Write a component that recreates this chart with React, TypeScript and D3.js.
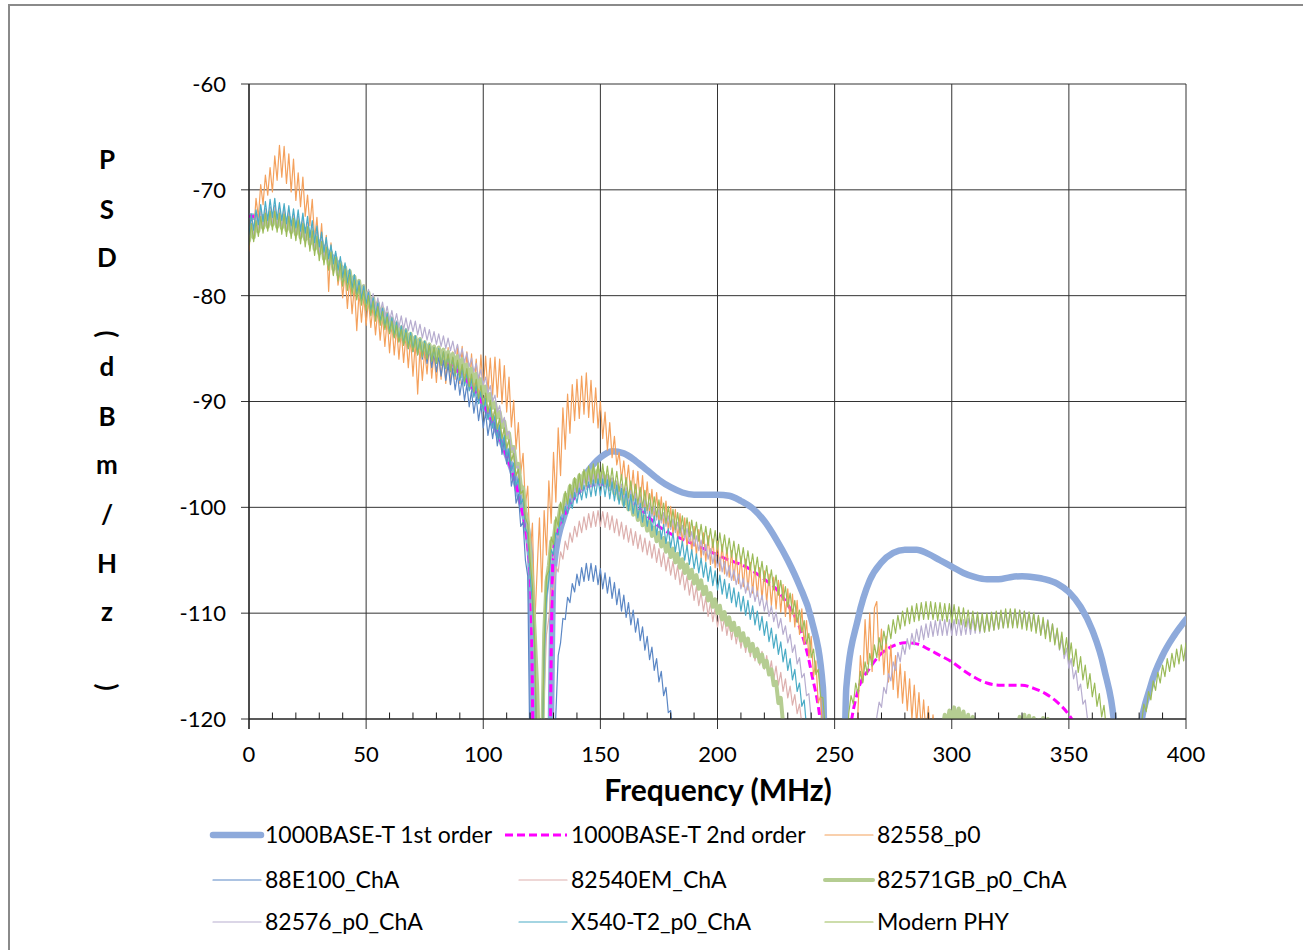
import React from 'react';
import * as d3 from 'd3';

// ---------- axes / ticks ----------
const X_TICKS = [0, 50, 100, 150, 200, 250, 300, 350, 400];
const X_MINOR = [10, 20, 30, 40, 60, 70, 80, 90, 110, 120, 130, 140, 160, 170, 180, 190, 210, 220, 230, 240, 260, 270, 280, 290, 310, 320, 330, 340, 360, 370, 380, 390];
const Y_TICKS = [-60, -70, -80, -90, -100, -110, -120];
const X_TITLE = 'Frequency (MHz)';
const Y_TITLE = ['P', 'S', 'D', '(', 'd', 'B', 'm', '/', 'H', 'z', ')'];

// ---------- theoretical curves (5 MHz grid) ----------
const THEORY_STEP = 5;
const FIRST_ORDER = [
  -72.5, -72.6, -72.7, -73.0, -73.4, -74.0, -75.1, -76.3, -77.6, -78.8,
  -80.1, -81.4, -82.6, -83.5, -84.2, -84.9, -85.6, -86.3, -87.2, -88.5,
  -90.2, -92.3, -95.0, -98.5, -104.5, -200, -106.0, -100.5, -98.2, -96.5,
  -95.3, -94.7, -94.9, -95.6, -96.5, -97.4, -98.1, -98.6, -98.8, -98.8,
  -98.8, -98.9, -99.4, -100.1, -101.3, -103.0, -105.0, -107.4, -110.5, -117.0,
  -200, -117.0, -110.5, -106.9, -105.2, -104.3, -104.0, -104.0, -104.4, -105.0,
  -105.6, -106.2, -106.6, -106.8, -106.8, -106.6, -106.5, -106.6, -106.8, -107.2,
  -108.0, -109.4, -111.6, -115.2, -122.0, -200, -122.0, -116.8, -114.0, -112.1,
  -110.6,
];
const SECOND_ORDER = [
  -72.5, -72.6, -72.8, -73.1, -73.5, -74.1, -75.2, -76.4, -77.7, -78.9,
  -80.2, -81.5, -82.7, -83.6, -84.2, -85.0, -85.7, -86.4, -87.3, -88.6,
  -90.3, -92.4, -95.2, -98.8, -106.0, -200, -103.5, -100.6, -98.8, -98.0,
  -97.8, -98.2, -98.9, -99.8, -100.8, -101.8, -102.5, -103.0, -103.5, -104.0,
  -104.5, -105.0, -105.4, -106.0, -106.8, -107.7, -109.2, -111.3, -115.5, -123.0,
  -200, -125.0, -117.3, -115.2, -113.8, -113.1, -112.8, -112.9, -113.4, -114.0,
  -114.6, -115.4, -116.1, -116.6, -116.8, -116.8, -116.8, -117.1, -117.6, -118.4,
  -119.6, -121.5, -124.0, -130.0, -140.0, -200,
];

// ---------- measured traces (1 MHz grid) ----------
const MEAS_STEP = 1;
const P82558_A = [
  -75.8, -72.5, -74.0, -70.8, -72.6, -69.5, -71.4, -68.6, -70.5, -67.9,
  -70.2, -66.8, -69.1, -65.8, -68.8, -65.9, -69.4, -66.6, -70.2, -67.1,
  -71.0, -68.4, -71.6, -68.8, -72.5, -70.5, -73.4, -70.9, -74.6, -72.6,
  -75.9, -73.2, -76.8, -74.3, -79.6, -75.0, -78.0, -76.3, -79.0, -77.5,
  -80.2, -77.8, -81.2, -78.4, -81.7, -79.0, -83.3, -79.6, -82.5, -80.0,
  -82.8, -80.4, -83.0, -80.9, -83.7, -81.3, -84.2, -81.9, -84.8, -82.2,
  -85.4, -82.6, -85.6, -83.0, -86.0, -83.3, -86.3, -83.7, -86.8, -84.0,
  -87.6, -84.4, -89.3, -84.9, -88.0, -85.2, -87.4, -84.6, -87.8, -85.4,
  -88.2, -85.4, -87.9, -85.0, -88.3, -84.9, -88.4, -85.3, -87.9, -84.7,
  -88.3, -84.8, -88.5, -85.3, -88.9, -85.5, -89.1, -86.0, -89.3, -85.6,
  -88.9, -85.7, -89.1, -85.9, -89.4, -85.8, -89.6, -86.0, -90.2, -86.6,
  -91.0, -87.7, -92.4, -89.9, -94.5, -92.0, -96.8, -94.9, -99.8, -98.0,
  -104.5, -101.5, -111.0, -106.0, -101.0, -108.0, -100.3, -104.5, -97.5, -101.5,
  -94.8, -99.5, -92.5, -97.0, -90.6, -94.5, -89.3, -93.0, -88.4, -91.8,
  -87.9, -91.6, -87.6, -91.2, -87.3, -91.5, -88.0, -92.0, -88.7, -92.5,
  -90.0, -93.5, -91.0, -94.6, -92.0, -95.3, -93.3, -96.0, -94.8, -97.4,
  -95.6, -98.0, -96.0, -98.8, -96.5, -99.4, -96.6, -99.7, -97.0, -100.2,
  -97.6, -100.6, -98.3, -101.1, -98.6, -101.4, -99.0, -101.8, -99.4, -102.2,
  -99.9, -102.6, -100.2, -103.0, -100.6, -103.4, -101.0, -103.8, -101.4, -104.2,
  -101.8, -104.5, -102.1, -104.8, -102.4, -105.1, -102.7, -105.4, -103.0, -105.7,
  -103.2, -106.0, -103.5, -106.3, -103.8, -106.6, -104.1, -106.9, -104.4, -107.2,
  -104.6, -107.5, -104.9, -107.8, -105.2, -108.1, -105.5, -108.4, -105.7, -108.7,
  -106.0, -109.0, -106.3, -109.3, -106.6, -109.6, -106.9, -109.9, -107.3, -110.3,
  -107.7, -110.8, -108.2, -111.3, -108.8, -112.0, -109.6, -112.9, -110.7, -114.2,
  -112.2, -116.0, -114.5, -118.5, -117.8, -121.5, -125.0,
];
const P82558_B = [
  -125, -119, -114, -116.5, -110.6, -114.8, -110.0, -115.5, -109.5, -108.9,
  -114.5, -111.5, -115.8, -112.2, -116.5, -113.0, -117.2, -114.0, -118.0, -114.8,
  -118.5, -115.5, -119.2, -116.2, -120.0, -116.8, -120.5, -117.5, -121, -118.2,
  -121.5, -118.8, -122, -119.6, -122, -125,
];
const E88E100_A = [
  -74.5, -72.9, -74.1, -72.5, -73.7, -72.0, -73.4, -71.8, -73.3, -71.6,
  -73.1, -71.5, -73.2, -71.7, -73.3, -71.8, -73.5, -72.0, -73.8, -72.3,
  -74.0, -72.5, -74.3, -72.8, -74.6, -73.1, -75.0, -73.5, -75.5, -74.0,
  -76.0, -74.5, -76.5, -75.0, -77.0, -75.5, -77.5, -76.0, -78.0, -76.6,
  -78.5, -77.1, -79.0, -77.6, -79.5, -78.1, -80.0, -78.6, -80.5, -79.1,
  -81.0, -79.6, -81.5, -80.1, -82.0, -80.6, -82.5, -81.1, -83.0, -81.6,
  -83.5, -82.0, -83.9, -82.4, -84.3, -82.8, -84.6, -83.1, -85.0, -83.5,
  -85.3, -83.8, -85.6, -84.1, -86.0, -84.5, -86.4, -84.9, -86.8, -85.3,
  -87.2, -85.7, -87.6, -86.1, -88.0, -86.5, -88.4, -86.9, -88.9, -87.4,
  -89.4, -87.9, -89.9, -88.4, -90.5, -89.0, -91.1, -89.6, -91.8, -90.3,
  -92.5, -91.0, -93.2, -91.8, -93.5, -92.0, -94.2, -92.8, -95.0, -93.6,
  -95.9, -94.7, -98.0, -96.9, -99.6, -98.8, -101.8, -101.4, -105.0, -106.5,
  -125.0,
];
const E88E100_B = [
  -125, -119.5, -114, -112.8, -110.5, -110.6, -108.5, -109.0, -107.2, -108.0,
  -106.3, -107.4, -105.7, -107.0, -105.3, -106.9, -105.3, -107.0, -105.5, -107.3,
  -105.8, -107.7, -106.2, -108.1, -106.6, -108.6, -107.1, -109.2, -107.7, -109.8,
  -108.3, -110.4, -109.0, -111.1, -109.7, -111.8, -110.5, -112.6, -111.3, -113.5,
  -112.2, -114.4, -113.2, -115.4, -114.3, -116.5, -115.5, -117.8, -117.0, -119.4,
  -119.2, -121.5, -125,
];
const E82540_A = [
  -74.3, -73.0, -74.0, -72.5, -73.5, -72.0, -73.2, -71.8, -73.1, -71.7,
  -72.9, -71.6, -73.1, -71.8, -73.2, -71.9, -73.4, -72.1, -73.7, -72.4,
  -73.9, -72.6, -74.2, -72.9, -74.5, -73.2, -74.8, -73.6, -75.3, -74.1,
  -75.8, -74.6, -76.3, -75.1, -76.8, -75.6, -77.3, -76.1, -77.8, -76.6,
  -78.3, -77.1, -78.8, -77.6, -79.3, -78.1, -79.8, -78.6, -80.3, -79.1,
  -80.8, -79.7, -81.3, -80.2, -81.8, -80.7, -82.3, -81.2, -82.8, -81.7,
  -83.3, -82.1, -83.7, -82.5, -84.1, -82.9, -84.4, -83.2, -84.7, -83.5,
  -85.0, -83.8, -85.3, -84.0, -85.6, -84.3, -85.8, -84.5, -86.0, -84.8,
  -86.3, -85.0, -86.5, -85.2, -86.7, -85.4, -87.0, -85.8, -87.4, -86.1,
  -87.7, -86.5, -88.1, -86.9, -88.6, -87.4, -89.1, -87.9, -89.6, -88.5,
  -90.2, -89.2, -91.0, -89.9, -91.7, -90.7, -92.6, -91.6, -93.5, -92.5,
  -94.4, -93.6, -95.6, -94.9, -97.0, -96.5, -98.8, -98.6, -101.2, -102.0,
  -105.5, -108.5, -114.0, -125.0,
];
const E82540_B = [
  -125, -118, -112, -110.5, -107.6, -107.8, -105.6, -106.1, -104.2, -104.9,
  -103.2, -104.0, -102.4, -103.3, -101.8, -102.8, -101.3, -102.4, -100.9, -102.1,
  -100.6, -101.9, -100.4, -101.8, -100.3, -101.8, -100.4, -101.9, -100.5, -102.1,
  -100.8, -102.4, -101.1, -102.7, -101.4, -103.0, -101.7, -103.3, -102.0, -103.6,
  -102.3, -103.9, -102.6, -104.2, -102.9, -104.5, -103.2, -104.8, -103.5, -105.2,
  -103.9, -105.6, -104.3, -106.0, -104.7, -106.4, -105.1, -106.8, -105.5, -107.3,
  -106.0, -107.8, -106.5, -108.3, -107.0, -108.8, -107.5, -109.3, -108.0, -109.8,
  -108.5, -110.3, -109.0, -110.8, -109.5, -111.3, -110.0, -111.7, -110.4, -112.1,
  -110.8, -112.5, -111.2, -112.9, -111.6, -113.3, -112.0, -113.7, -112.4, -114.1,
  -112.8, -114.5, -113.2, -114.9, -113.6, -115.3, -114.0, -115.8, -114.5, -116.3,
  -115.0, -116.8, -115.6, -117.4, -116.2, -118.0, -116.9, -118.7, -117.7, -119.5,
  -118.6, -120.5, -121, -125,
];
const E82571_A = [
  -74.8, -73.6, -74.5, -73.1, -73.9, -72.6, -73.6, -72.4, -73.5, -72.3,
  -73.3, -72.2, -73.5, -72.4, -73.6, -72.5, -73.8, -72.6, -74.0, -72.9,
  -74.2, -73.0, -74.5, -73.3, -74.7, -73.6, -75.1, -73.9, -75.6, -74.4,
  -76.0, -74.9, -76.5, -75.4, -77.0, -75.9, -77.5, -76.4, -78.0, -76.9,
  -78.5, -77.3, -78.8, -77.7, -79.2, -78.2, -79.7, -78.6, -80.2, -79.1,
  -80.7, -79.7, -81.2, -80.2, -81.7, -80.7, -82.2, -81.2, -82.7, -81.7,
  -83.1, -82.2, -83.5, -82.6, -83.9, -83.0, -84.2, -83.3, -84.5, -83.6,
  -84.8, -83.9, -85.0, -84.1, -85.2, -84.4, -85.4, -84.6, -85.6, -84.8,
  -85.8, -84.9, -85.9, -85.1, -86.1, -85.3, -86.3, -85.5, -86.5, -85.7,
  -86.8, -86.0, -87.2, -86.5, -87.6, -86.9, -88.1, -87.4, -88.6, -87.9,
  -89.2, -88.6, -89.9, -89.3, -90.6, -90.1, -91.5, -91.0, -92.4, -91.9,
  -93.4, -93.0, -94.7, -94.3, -96.1, -95.9, -97.9, -98.2, -100.4, -101.5,
  -104.5, -107.5, -112.0, -117.0, -125.0,
];
const E82571_B = [
  -125, -112, -107, -105.5, -103.2, -103.2, -101.3, -101.3, -99.8, -100.0,
  -98.8, -99.2, -98.0, -98.6, -97.4, -98.1, -97.0, -97.8, -96.7, -97.6,
  -96.5, -97.5, -96.4, -97.5, -96.5, -97.6, -96.7, -97.9, -97.0, -98.3,
  -97.4, -98.7, -97.9, -99.2, -98.4, -99.7, -98.9, -100.2, -99.4, -100.7,
  -99.9, -101.2, -100.4, -101.7, -100.9, -102.2, -101.4, -102.7, -101.9, -103.2,
  -102.4, -103.7, -102.9, -104.2, -103.4, -104.7, -103.9, -105.2, -104.4, -105.7,
  -104.9, -106.2, -105.4, -106.7, -105.9, -107.2, -106.4, -107.7, -106.9, -108.2,
  -107.5, -108.8, -108.1, -109.4, -108.7, -110.0, -109.3, -110.6, -109.9, -111.1,
  -110.4, -111.6, -110.9, -112.1, -111.4, -112.6, -111.9, -113.1, -112.4, -113.6,
  -112.9, -114.1, -113.4, -114.6, -113.9, -115.1, -114.5, -115.8, -115.3, -116.8,
  -116.5, -118.5, -118.0, -120.5, -122, -125,
];
const E82571_C = [
  -121.0, -119.6, -120.5, -119.2, -120.3, -118.9, -120.4, -119.0, -120.6, -119.3,
  -120.8, -119.6, -121.0, -119.8, -121.5, -120.2, -122.0, -121.0, -122.0, -121.0,
  -122.0, -121.0, -122.0, -121.0, -122.0, -121.0, -122.0, -121.0, -122.0, -121.0,
  -122.0, -121.0, -121.0, -119.8, -120.9, -119.6, -121.0, -119.7, -121.2, -119.9,
  -121.5, -120.1, -122.0, -119.9, -121.4, -120.0, -122.0, -121.0, -122.0, -125.0,
];
const E82576_A = [
  -74.6, -73.1, -74.2, -72.7, -73.8, -72.3, -73.5, -72.1, -73.4, -72.0,
  -73.2, -71.9, -73.4, -72.1, -73.5, -72.2, -73.7, -72.4, -74.0, -72.7,
  -74.2, -72.9, -74.5, -73.2, -74.8, -73.5, -75.1, -73.9, -75.5, -74.3,
  -75.9, -74.7, -76.3, -75.2, -76.7, -76.2, -77.7, -76.6, -78.1, -77.0,
  -78.5, -77.4, -78.9, -77.8, -79.3, -78.2, -79.7, -78.6, -80.1, -79.0,
  -80.5, -79.4, -80.9, -79.8, -81.3, -80.2, -81.6, -80.6, -82.0, -81.0,
  -82.4, -81.4, -82.7, -81.7, -83.0, -81.9, -83.2, -82.1, -83.3, -82.3,
  -83.4, -82.4, -83.7, -82.7, -84.0, -83.0, -84.2, -83.2, -84.4, -83.4,
  -84.6, -83.6, -84.8, -83.8, -85.0, -84.0, -85.2, -84.3, -85.5, -84.6,
  -85.9, -85.0, -86.3, -85.4, -86.7, -85.9, -87.2, -86.4, -87.8, -87.0,
  -88.4, -87.7, -89.2, -88.5, -90.0, -89.4, -91.0, -90.4, -92.0, -91.5,
  -93.2, -92.8, -94.6, -94.3, -96.3, -96.1, -98.3, -98.5, -101.0, -102.0,
  -105.5, -108.5, -114.0, -125.0,
];
const E82576_B = [
  -125, -115, -109, -107.2, -104.6, -104.8, -102.6, -102.9, -101.0, -101.5,
  -99.8, -100.4, -98.9, -99.6, -98.2, -99.0, -97.7, -98.6, -97.3, -98.3,
  -97.0, -98.1, -96.9, -98.0, -96.8, -98.0, -96.9, -98.1, -97.0, -98.3,
  -97.2, -98.5, -97.5, -98.8, -97.8, -99.1, -98.1, -99.4, -98.4, -99.7,
  -98.7, -100.0, -99.0, -100.3, -99.3, -100.6, -99.6, -100.9, -99.9, -101.2,
  -100.2, -101.5, -100.5, -101.8, -100.8, -102.1, -101.1, -102.4, -101.4, -102.7,
  -101.7, -103.0, -102.0, -103.3, -102.3, -103.7, -102.7, -104.1, -103.1, -104.5,
  -103.5, -104.9, -103.9, -105.3, -104.3, -105.7, -104.7, -106.1, -105.1, -106.5,
  -105.5, -106.9, -105.9, -107.3, -106.3, -107.7, -106.7, -108.1, -107.1, -108.5,
  -107.5, -108.9, -107.9, -109.3, -108.3, -109.8, -108.8, -110.3, -109.3, -110.8,
  -109.9, -111.4, -110.5, -112.0, -111.2, -112.8, -112.0, -113.7, -113.0, -114.8,
  -114.2, -116.1, -115.7, -117.8, -117.6, -120.0, -121, -125,
];
const E82576_C = [
  -125, -119.8, -118.4, -118.9, -117.0, -117.6, -115.7, -116.4, -114.6, -115.4,
  -113.7, -114.6, -113.0, -113.9, -112.4, -113.4, -111.9, -113.0, -111.5, -112.7,
  -111.2, -112.5, -111.0, -112.3, -110.8, -112.2, -110.7, -112.1, -110.6, -112.1,
  -110.6, -112.1, -110.6, -112.1, -110.6, -112.1, -110.6, -112.1, -110.6, -112.0,
  -110.5, -112.0, -110.5, -111.9, -110.4, -111.9, -110.4, -111.8, -110.3, -111.7,
  -110.2, -111.6, -110.1, -111.5, -110.0, -111.4, -109.9, -111.3, -109.8, -111.2,
  -109.7, -111.2, -109.7, -111.2, -109.8, -111.3, -109.9, -111.4, -110.0, -111.6,
  -110.3, -112.0, -110.8, -112.0, -110.6, -112.3, -111.0, -112.8, -111.6, -113.5,
  -112.4, -114.3, -113.3, -115.2, -114.3, -116.2, -115.4, -117.3, -116.7, -118.6,
  -118.2, -120.1, -120.5, -125,
];
const X540_A = [
  -74.2, -72.3, -73.8, -71.9, -73.3, -71.4, -73.0, -71.1, -72.9, -70.9,
  -72.6, -70.8, -72.8, -71.2, -72.9, -71.3, -73.2, -71.5, -73.4, -71.8,
  -73.6, -71.9, -73.9, -72.2, -74.1, -72.5, -74.5, -72.9, -75.0, -73.4,
  -75.4, -74.0, -75.9, -74.5, -76.5, -75.2, -77.0, -75.8, -77.6, -76.3,
  -78.3, -76.9, -78.8, -77.5, -79.3, -78.0, -79.8, -78.6, -80.3, -79.1,
  -80.8, -79.7, -81.4, -80.2, -81.9, -80.7, -82.4, -81.2, -82.9, -81.7,
  -83.4, -82.1, -83.8, -82.5, -84.2, -82.9, -84.5, -83.2, -84.8, -83.5,
  -85.1, -83.8, -85.4, -84.1, -85.7, -84.3, -85.9, -84.6, -86.2, -84.9,
  -86.4, -85.0, -86.6, -85.3, -86.9, -85.6, -87.2, -85.9, -87.6, -86.3,
  -88.0, -86.8, -88.5, -87.3, -89.0, -87.8, -89.6, -88.4, -90.2, -89.0,
  -90.9, -89.7, -91.7, -90.5, -92.5, -91.3, -93.4, -92.2, -94.3, -93.2,
  -95.2, -94.4, -96.5, -95.8, -98.0, -97.3, -99.7, -99.2, -102.0, -102.5,
  -106.5, -109.0, -114.0, -125.0,
];
const X540_B = [
  -125, -114, -108.5, -106.8, -104.0, -104.5, -102.4, -102.6, -100.9, -101.5,
  -99.9, -100.6, -99.2, -100.1, -98.6, -99.6, -98.2, -99.3, -97.9, -99.1,
  -97.6, -99.0, -97.4, -98.9, -97.3, -98.9, -97.3, -99.0, -97.4, -99.2,
  -97.6, -99.4, -97.9, -99.7, -98.2, -100.0, -98.5, -100.3, -98.8, -100.6,
  -99.2, -101.0, -99.6, -101.4, -100.0, -101.8, -100.4, -102.2, -100.8, -102.6,
  -101.2, -103.0, -101.6, -103.4, -102.0, -103.8, -102.4, -104.2, -102.8, -104.6,
  -103.2, -105.0, -103.6, -105.4, -104.0, -105.8, -104.4, -106.2, -104.8, -106.6,
  -105.2, -107.0, -105.6, -107.4, -106.0, -107.8, -106.4, -108.2, -106.8, -108.6,
  -107.2, -109.0, -107.6, -109.4, -108.0, -109.8, -108.4, -110.2, -108.8, -110.6,
  -109.3, -111.1, -109.8, -111.6, -110.3, -112.1, -110.8, -112.7, -111.4, -113.3,
  -112.0, -113.9, -112.7, -114.6, -113.4, -115.4, -114.3, -116.3, -115.3, -117.4,
  -116.6, -118.8, -118.2, -120.8, -121, -125,
];
const MODERN_A = [
  -75.2, -73.2, -74.9, -72.9, -74.4, -72.5, -74.1, -72.2, -73.9, -72.0,
  -73.8, -72.0, -74.0, -72.2, -74.2, -72.3, -74.4, -72.5, -74.6, -72.7,
  -74.8, -72.9, -75.1, -73.2, -75.4, -73.5, -75.8, -73.9, -76.2, -74.4,
  -76.7, -74.9, -77.1, -75.4, -77.6, -75.9, -78.1, -76.4, -78.6, -77.0,
  -79.1, -77.5, -79.5, -78.0, -79.9, -78.5, -80.4, -79.0, -80.9, -79.5,
  -81.4, -80.0, -81.9, -80.5, -82.4, -81.0, -82.8, -81.5, -83.2, -82.0,
  -83.6, -82.4, -84.0, -82.8, -84.4, -83.2, -84.7, -83.5, -85.0, -83.8,
  -85.3, -84.1, -85.6, -84.3, -85.8, -84.5, -86.0, -84.7, -86.2, -84.9,
  -86.4, -85.1, -86.6, -85.3, -86.8, -85.5, -87.1, -85.8, -87.4, -86.1,
  -87.7, -86.5, -88.1, -86.9, -88.6, -87.4, -89.1, -87.9, -89.7, -88.5,
  -90.3, -89.2, -91.0, -89.9, -91.8, -90.7, -92.6, -91.6, -93.5, -92.5,
  -94.4, -93.6, -95.6, -94.9, -97.0, -96.4, -98.7, -98.4, -101.0, -101.6,
  -105.0, -107.5, -113.0, -125.0,
];
const MODERN_B = [
  -125, -113, -106.5, -106.0, -102.8, -103.5, -100.9, -101.8, -99.5, -100.6,
  -98.5, -99.7, -97.8, -99.1, -97.2, -98.6, -96.8, -98.3, -96.4, -98.0,
  -96.1, -97.8, -95.9, -97.7, -95.8, -97.7, -95.9, -97.8, -96.1, -98.0,
  -96.3, -98.2, -96.6, -98.5, -96.9, -98.8, -97.2, -99.1, -97.5, -99.4,
  -97.8, -99.7, -98.1, -100.0, -98.4, -100.3, -98.7, -100.6, -99.0, -100.9,
  -99.3, -101.2, -99.6, -101.5, -99.9, -101.8, -100.2, -102.1, -100.5, -102.4,
  -100.8, -102.6, -101.0, -102.8, -101.2, -103.0, -101.4, -103.2, -101.6, -103.4,
  -101.8, -103.6, -102.0, -103.8, -102.2, -104.0, -102.4, -104.2, -102.6, -104.4,
  -102.9, -104.7, -103.2, -105.0, -103.5, -105.3, -103.8, -105.6, -104.1, -105.9,
  -104.4, -106.2, -104.7, -106.6, -105.1, -107.0, -105.5, -107.4, -105.9, -107.8,
  -106.4, -108.3, -106.9, -108.8, -107.5, -109.4, -108.1, -110.1, -108.8, -110.9,
  -109.7, -111.8, -110.7, -112.9, -111.9, -114.2, -113.4, -115.8, -115.3, -117.9,
  -118.0, -121, -125,
];
const MODERN_C = [
  -125, -119.5, -117.8, -118.6, -116.6, -117.6, -115.5, -116.6, -114.6, -115.8,
  -113.8, -115.0, -113.0, -114.2, -112.3, -113.5, -111.7, -112.9, -111.1, -112.4,
  -110.6, -111.9, -110.2, -111.5, -109.8, -111.2, -109.5, -111.0, -109.3, -110.8,
  -109.1, -110.7, -109.0, -110.6, -108.9, -110.6, -108.9, -110.6, -109.0, -110.7,
  -109.0, -110.7, -109.1, -110.8, -109.1, -110.9, -109.2, -111.0, -109.4, -111.1,
  -109.5, -111.3, -109.7, -111.5, -109.8, -111.6, -109.9, -111.7, -110.0, -111.8,
  -110.0, -111.7, -109.9, -111.6, -109.8, -111.5, -109.7, -111.4, -109.6, -111.4,
  -109.6, -111.4, -109.6, -111.4, -109.7, -111.5, -109.8, -111.6, -109.9, -111.7,
  -110.0, -111.9, -110.2, -112.1, -110.4, -112.4, -110.7, -112.7, -111.0, -113.0,
  -111.4, -113.4, -111.8, -113.9, -112.3, -114.4, -112.8, -115.0, -113.4, -115.6,
  -114.1, -116.3, -114.9, -117.1, -115.7, -117.9, -116.6, -118.8, -117.6, -119.8,
  -118.7, -121, -120.2, -125,
];
const MODERN_D = [
  -125, -120.5, -118.6, -119.3, -117.4, -118.2, -116.4, -117.3, -115.6, -116.6,
  -114.9, -116.0, -114.3, -115.5, -113.8, -115.1, -113.4, -114.8, -113.0, -114.5,
  -112.8,
];

type Seg = { start: number; step: number; values: number[] };
type Series = {
  name: string;
  color: string;
  width: number;
  dash?: string;
  smooth?: boolean;
  segs: Seg[];
};

const SERIES: Series[] = [
  { name: '1000BASE-T 1st order', color: '#8EAADB', width: 6.5, smooth: true, segs: [{ start: 0, step: THEORY_STEP, values: FIRST_ORDER }] },
  { name: '1000BASE-T 2nd order', color: '#FF00FF', width: 3, dash: '8,4', smooth: true, segs: [{ start: 0, step: THEORY_STEP, values: SECOND_ORDER }] },
  { name: '82558_p0', color: '#F4A15D', width: 1.2, segs: [{ start: 0, step: MEAS_STEP, values: P82558_A }, { start: 259, step: MEAS_STEP, values: P82558_B }] },
  { name: '88E100_ChA', color: '#5B87C5', width: 1.2, segs: [{ start: 0, step: MEAS_STEP, values: E88E100_A }, { start: 130, step: MEAS_STEP, values: E88E100_B }] },
  { name: '82540EM_ChA', color: '#DDB0AE', width: 1.2, segs: [{ start: 0, step: MEAS_STEP, values: E82540_A }, { start: 125, step: MEAS_STEP, values: E82540_B }] },
  { name: '82571GB_p0_ChA', color: '#B5CD92', width: 4, segs: [{ start: 0, step: MEAS_STEP, values: E82571_A }, { start: 125, step: MEAS_STEP, values: E82571_B }, { start: 296, step: MEAS_STEP, values: E82571_C }] },
  { name: '82576_p0_ChA', color: '#B7ADCF', width: 1.2, segs: [{ start: 0, step: MEAS_STEP, values: E82576_A }, { start: 125, step: MEAS_STEP, values: E82576_B }, { start: 267, step: MEAS_STEP, values: E82576_C }] },
  { name: 'X540-T2_p0_ChA', color: '#4BACC6', width: 1.2, segs: [{ start: 0, step: MEAS_STEP, values: X540_A }, { start: 125, step: MEAS_STEP, values: X540_B }] },
  { name: 'Modern PHY', color: '#9BBB59', width: 1.2, segs: [{ start: 0, step: MEAS_STEP, values: MODERN_A }, { start: 125, step: MEAS_STEP, values: MODERN_B }, { start: 255, step: MEAS_STEP, values: MODERN_C }, { start: 380, step: MEAS_STEP, values: MODERN_D }] },
];

// ---------- layout ----------
const W = 1303;
const H = 950;
const PLOT = { left: 249, right: 1186, top: 84, bottom: 719 };
const FONT = "Lato, 'Open Sans', 'Liberation Sans', sans-serif";
const LEGEND_COLS = [265, 571, 877];
const LEGEND_ROWS = [835, 880, 922];
const Y_TITLE_POS = [160, 210, 258, 334, 367, 417, 467, 515, 564, 614, 687];

export default function App() {
  const x = d3.scaleLinear().domain([0, 400]).range([PLOT.left, PLOT.right]);
  const y = d3.scaleLinear().domain([-120, -60]).range([PLOT.bottom, PLOT.top]);

  const lineLin = d3
    .line<[number, number]>()
    .x((d) => x(d[0]))
    .y((d) => y(d[1]));
  const lineSmooth = d3
    .line<[number, number]>()
    .x((d) => x(d[0]))
    .y((d) => y(d[1]))
    .curve(d3.curveMonotoneX);

  const segPath = (s: Series, seg: Seg) => {
    const pts: [number, number][] = seg.values.map((v, i) => [seg.start + i * seg.step, v]);
    return (s.smooth ? lineSmooth : lineLin)(pts) || '';
  };

  return (
    <svg
      width={W}
      height={H}
      viewBox={`0 0 ${W} ${H}`}
      style={{ position: 'absolute', left: 0, top: 0, background: '#fff' }}
      fontFamily={FONT}
    >
      <rect x={0} y={0} width={W} height={H} fill="#fff" />
      <rect x={9} y={5} width={W + 20} height={H + 20} fill="none" stroke="#8a8a8a" strokeWidth={2} />
      <defs>
        <clipPath id="plotclip">
          <rect x={PLOT.left} y={PLOT.top} width={PLOT.right - PLOT.left} height={PLOT.bottom - PLOT.top} />
        </clipPath>
      </defs>

      {/* gridlines */}
      {Y_TICKS.map((t) => (
        <line key={'hy' + t} x1={PLOT.left - 8} x2={PLOT.right} y1={y(t)} y2={y(t)} stroke="#333" strokeWidth={1} />
      ))}
      {X_TICKS.map((t) => (
        <line key={'vx' + t} x1={x(t)} x2={x(t)} y1={PLOT.top} y2={PLOT.bottom + 10} stroke="#333" strokeWidth={1} />
      ))}

      {/* series */}
      <g clipPath="url(#plotclip)">
        {SERIES.map((s) =>
          s.segs.map((seg, k) => (
            <path
              key={s.name + k}
              d={segPath(s, seg)}
              fill="none"
              stroke={s.color}
              strokeWidth={s.width}
              strokeDasharray={s.dash}
              strokeLinejoin="round"
              strokeLinecap={s.dash ? 'butt' : 'round'}
            />
          ))
        )}
      </g>

      {/* axes */}
      <line x1={PLOT.left} x2={PLOT.right} y1={PLOT.bottom} y2={PLOT.bottom} stroke="#1a1a1a" strokeWidth={1.2} />
      <line x1={PLOT.left} x2={PLOT.left} y1={PLOT.top} y2={PLOT.bottom + 10} stroke="#1a1a1a" strokeWidth={1.2} />
      {X_MINOR.map((t) => (
        <line key={'mn' + t} x1={x(t)} x2={x(t)} y1={PLOT.bottom} y2={PLOT.bottom - 6.5} stroke="#1a1a1a" strokeWidth={1} />
      ))}

      {/* tick labels */}
      {Y_TICKS.map((t) => (
        <text key={'ly' + t} x={226} y={y(t)} dy="0.36em" textAnchor="end" fontSize={22} fill="#000">
          {t}
        </text>
      ))}
      {X_TICKS.map((t) => (
        <text key={'lx' + t} x={x(t)} y={762} textAnchor="middle" fontSize={22} fill="#000">
          {t}
        </text>
      ))}

      {/* axis titles */}
      <text x={718} y={801} textAnchor="middle" fontSize={30} fontWeight="bold" fill="#000">
        {X_TITLE}
      </text>
      {Y_TITLE.map((ch, i) => {
        const cy = Y_TITLE_POS[i];
        if (ch === '(' || ch === ')') {
          return (
            <text
              key={'yt' + i}
              x={0}
              y={0}
              transform={`translate(107,${cy}) rotate(90)`}
              textAnchor="middle"
              dy="0.33em"
              fontSize={26}
              fontWeight="bold"
              fill="#000"
            >
              {ch}
            </text>
          );
        }
        const low = ch === 'm' || ch === 'z';
        return (
          <text key={'yt' + i} x={107} y={cy + (low ? 7 : 9.4)} textAnchor="middle" fontSize={26} fontWeight="bold" fill="#000">
            {ch}
          </text>
        );
      })}

      {/* legend */}
      {SERIES.map((s, i) => {
        const col = i % 3;
        const row = Math.floor(i / 3);
        const tx = LEGEND_COLS[col];
        const cy = LEGEND_ROWS[row];
        const x0 = s.dash ? tx - 66 : tx - 52;
        return (
          <g key={'lg' + s.name}>
            <line
              x1={x0}
              x2={tx - 4}
              y1={cy}
              y2={cy}
              stroke={s.color}
              strokeWidth={s.width}
              strokeDasharray={s.dash}
              strokeLinecap={s.dash ? 'butt' : 'round'}
            />
            <text x={tx} y={cy} dy="0.36em" fontSize={23} fill="#000">
              {s.name}
            </text>
          </g>
        );
      })}
    </svg>
  );
}
